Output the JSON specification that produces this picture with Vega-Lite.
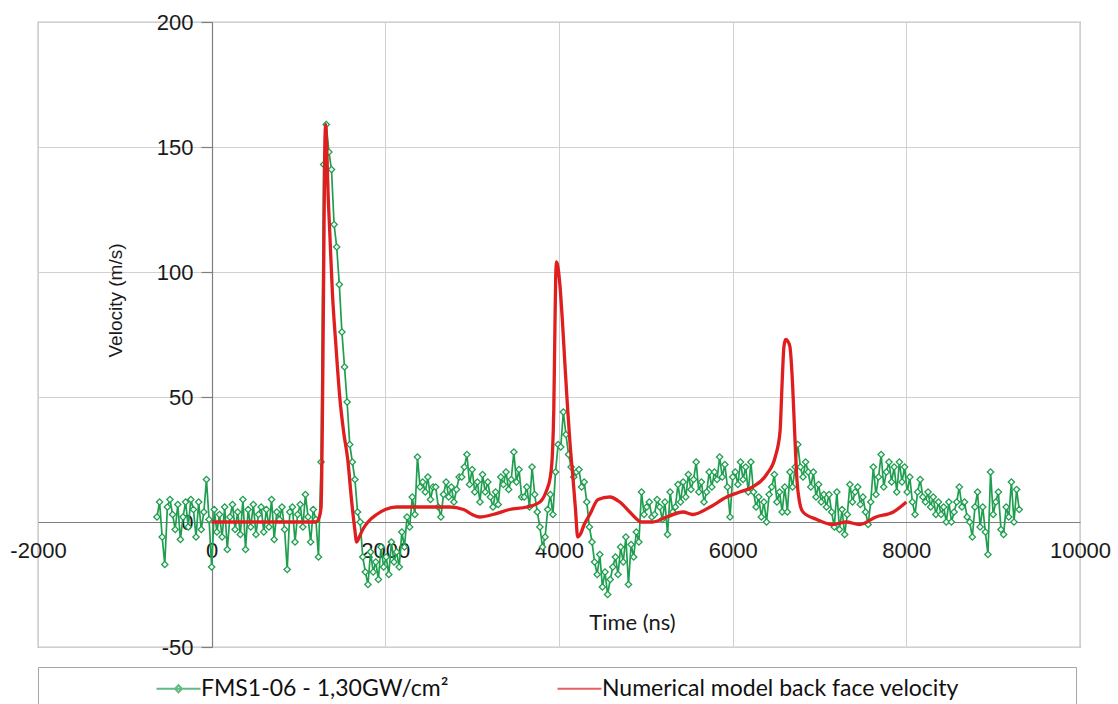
{
  "$schema": "https://vega.github.io/schema/vega-lite/v6.json",
  "width": 1042,
  "height": 625,
  "autosize": {"type": "none"},
  "padding": {"left": 38, "top": 22, "right": 38, "bottom": 57},
  "background": "white",
  "config": {
    "view": {"stroke": "#8c8c8c", "strokeWidth": 1.2},
    "font": "Liberation Sans"
  },
  "datasets": {
    "exp": [
      {"t":-630,"v":2},{"t":-600,"v":8},{"t":-570,"v":-6},{"t":-540,"v":-17},{"t":-510,"v":6},{"t":-480,"v":9},{"t":-450,"v":3},{"t":-420,"v":-3},{"t":-390,"v":7},{"t":-360,"v":-7},{"t":-330,"v":2},{"t":-300,"v":8},{"t":-270,"v":-2},{"t":-240,"v":9},{"t":-210,"v":5},{"t":-180,"v":-6},{"t":-150,"v":8},{"t":-120,"v":-3},{"t":-90,"v":4},{"t":-60,"v":17},{"t":-30,"v":1},{"t":0,"v":-18},
      {"t":30,"v":5},{"t":60,"v":-4},{"t":90,"v":3},{"t":120,"v":-6},{"t":150,"v":6},{"t":180,"v":-11},{"t":210,"v":2},{"t":240,"v":7},{"t":270,"v":-3},{"t":300,"v":4},{"t":330,"v":-5},{"t":360,"v":9},{"t":390,"v":-11},{"t":420,"v":5},{"t":450,"v":-2},{"t":480,"v":7},{"t":510,"v":-5},{"t":540,"v":3},{"t":570,"v":6},{"t":600,"v":-4},{"t":630,"v":5},{"t":660,"v":-2},{"t":690,"v":9},{"t":720,"v":-7},{"t":750,"v":4},{"t":780,"v":1},{"t":810,"v":6},{"t":840,"v":-3},{"t":870,"v":-19},{"t":900,"v":4},{"t":930,"v":6},{"t":960,"v":-8},{"t":990,"v":3},{"t":1020,"v":7},{"t":1050,"v":-2},{"t":1080,"v":11},{"t":1110,"v":2},{"t":1140,"v":-8},{"t":1170,"v":5},{"t":1200,"v":1},{"t":1230,"v":-14},
      {"t":1260,"v":24},{"t":1290,"v":143},{"t":1320,"v":159},{"t":1350,"v":148},{"t":1380,"v":141},{"t":1410,"v":119},{"t":1440,"v":110},{"t":1470,"v":95},{"t":1500,"v":76},{"t":1530,"v":62},{"t":1560,"v":48},{"t":1590,"v":31},{"t":1620,"v":24},{"t":1650,"v":17},{"t":1680,"v":4},{"t":1710,"v":0},{"t":1740,"v":-14},
      {"t":1770,"v":-20},{"t":1800,"v":-25},{"t":1830,"v":-12},{"t":1860,"v":-20},{"t":1890,"v":-16},{"t":1920,"v":-23},{"t":1950,"v":-10},{"t":1980,"v":-18},{"t":2010,"v":-14},{"t":2040,"v":-21},{"t":2070,"v":-8},{"t":2100,"v":-16},{"t":2130,"v":-12},{"t":2160,"v":-18},{"t":2190,"v":-4},{"t":2220,"v":-10},{"t":2250,"v":2},{"t":2280,"v":-2},{"t":2310,"v":10},{"t":2340,"v":3},{"t":2370,"v":26},{"t":2400,"v":14},
      {"t":2430,"v":16},{"t":2460,"v":12},{"t":2490,"v":18},{"t":2520,"v":9},{"t":2550,"v":14},{"t":2580,"v":14},{"t":2610,"v":6},{"t":2640,"v":2},{"t":2670,"v":11},{"t":2700,"v":16},{"t":2730,"v":10},{"t":2760,"v":14},{"t":2790,"v":8},{"t":2820,"v":13},{"t":2850,"v":18},{"t":2880,"v":18},{"t":2910,"v":22},{"t":2940,"v":27},{"t":2970,"v":15},{"t":3000,"v":21},{"t":3030,"v":12},{"t":3060,"v":16},{"t":3090,"v":8},{"t":3120,"v":19},{"t":3150,"v":12},{"t":3180,"v":16},{"t":3210,"v":10},{"t":3240,"v":6},{"t":3270,"v":12},{"t":3300,"v":7},{"t":3330,"v":18},{"t":3360,"v":15},{"t":3390,"v":20},{"t":3420,"v":13},{"t":3450,"v":17},{"t":3480,"v":28},{"t":3510,"v":16},{"t":3540,"v":21},{"t":3570,"v":10},{"t":3600,"v":10},{"t":3630,"v":14},{"t":3660,"v":6},{"t":3690,"v":22},{"t":3720,"v":11},{"t":3750,"v":4},{"t":3780,"v":-2},{"t":3810,"v":-10},{"t":3840,"v":-6},{"t":3870,"v":5},{"t":3900,"v":11},
      {"t":3930,"v":3},{"t":3960,"v":20},{"t":3990,"v":31},{"t":4020,"v":30},{"t":4050,"v":44},{"t":4080,"v":35},{"t":4110,"v":27},{"t":4140,"v":22},{"t":4170,"v":18},{"t":4200,"v":20},{"t":4230,"v":21},{"t":4260,"v":14},{"t":4290,"v":16},{"t":4320,"v":8},{"t":4350,"v":-2},{"t":4380,"v":-8},{"t":4410,"v":-16},{"t":4440,"v":-21},{"t":4470,"v":-13},{"t":4500,"v":-26},{"t":4530,"v":-20},{"t":4560,"v":-29},{"t":4590,"v":-23},{"t":4620,"v":-18},{"t":4650,"v":-14},{"t":4680,"v":-21},{"t":4710,"v":-10},{"t":4740,"v":-16},{"t":4770,"v":-6},{"t":4800,"v":-25},{"t":4830,"v":-9},{"t":4860,"v":-14},{"t":4890,"v":-4},{"t":4920,"v":-8},
      {"t":4950,"v":12},{"t":4980,"v":3},{"t":5010,"v":6},{"t":5040,"v":8},{"t":5070,"v":2},{"t":5100,"v":3},{"t":5130,"v":9},{"t":5160,"v":6},{"t":5190,"v":1},{"t":5220,"v":8},{"t":5250,"v":-5},{"t":5280,"v":12},{"t":5310,"v":4},{"t":5340,"v":6},{"t":5370,"v":15},{"t":5400,"v":8},{"t":5430,"v":16},{"t":5460,"v":10},{"t":5490,"v":19},{"t":5520,"v":13},{"t":5550,"v":17},{"t":5580,"v":24},{"t":5610,"v":12},{"t":5640,"v":16},{"t":5670,"v":8},{"t":5700,"v":12},{"t":5730,"v":20},{"t":5760,"v":14},{"t":5790,"v":20},{"t":5820,"v":17},{"t":5850,"v":26},{"t":5880,"v":18},{"t":5910,"v":23},{"t":5940,"v":14},{"t":5970,"v":2},{"t":6000,"v":18},{"t":6030,"v":20},{"t":6060,"v":15},{"t":6090,"v":24},{"t":6120,"v":17},{"t":6150,"v":22},{"t":6180,"v":12},{"t":6210,"v":24},{"t":6240,"v":12},{"t":6270,"v":6},{"t":6300,"v":10},{"t":6330,"v":2},{"t":6360,"v":8},{"t":6390,"v":0},
      {"t":6420,"v":11},{"t":6450,"v":14},{"t":6480,"v":19},{"t":6510,"v":8},{"t":6540,"v":12},{"t":6570,"v":4},{"t":6600,"v":14},{"t":6630,"v":4},{"t":6660,"v":20},{"t":6690,"v":14},{"t":6720,"v":22},{"t":6750,"v":31},{"t":6780,"v":22},{"t":6810,"v":18},{"t":6840,"v":24},{"t":6870,"v":20},{"t":6900,"v":14},{"t":6930,"v":20},{"t":6960,"v":10},{"t":6990,"v":15},{"t":7020,"v":8},{"t":7050,"v":11},{"t":7080,"v":6},{"t":7110,"v":11},{"t":7140,"v":4},{"t":7170,"v":-2},{"t":7200,"v":12},{"t":7230,"v":-3},{"t":7260,"v":5},{"t":7290,"v":-5},{"t":7320,"v":3},{"t":7350,"v":15},{"t":7380,"v":8},{"t":7410,"v":12},{"t":7440,"v":14},{"t":7470,"v":7},{"t":7500,"v":10},{"t":7530,"v":4},{"t":7560,"v":-1},{"t":7590,"v":8},{"t":7620,"v":22},{"t":7650,"v":11},{"t":7680,"v":18},
      {"t":7710,"v":27},{"t":7740,"v":14},{"t":7770,"v":20},{"t":7800,"v":24},{"t":7830,"v":16},{"t":7860,"v":22},{"t":7890,"v":12},{"t":7920,"v":24},{"t":7950,"v":16},{"t":7980,"v":22},{"t":8010,"v":12},{"t":8040,"v":18},{"t":8070,"v":8},{"t":8100,"v":3},{"t":8130,"v":12},{"t":8160,"v":17},{"t":8190,"v":10},{"t":8220,"v":8},{"t":8250,"v":12},{"t":8280,"v":6},{"t":8310,"v":10},{"t":8340,"v":3},{"t":8370,"v":8},{"t":8400,"v":3},{"t":8430,"v":6},{"t":8460,"v":0},{"t":8490,"v":8},{"t":8520,"v":0},{"t":8550,"v":4},{"t":8580,"v":8},{"t":8610,"v":14},{"t":8640,"v":6},{"t":8670,"v":8},{"t":8700,"v":2},{"t":8730,"v":0},{"t":8760,"v":-6},{"t":8790,"v":6},{"t":8820,"v":12},{"t":8850,"v":-2},{"t":8880,"v":6},{"t":8910,"v":-4},{"t":8940,"v":-13},{"t":8970,"v":20},{"t":9000,"v":3},{"t":9030,"v":8},{"t":9060,"v":12},{"t":9090,"v":-3},{"t":9120,"v":-5},{"t":9150,"v":6},{"t":9180,"v":2},{"t":9210,"v":16},{"t":9240,"v":0},{"t":9270,"v":13},{"t":9300,"v":5}
    ],
    "num": [
      {"t":0,"v":0},{"t":600,"v":0},{"t":1200,"v":0},{"t":1240,"v":2},{"t":1260,"v":6},{"t":1275,"v":40},{"t":1290,"v":100},{"t":1303,"v":150},{"t":1313,"v":159},{"t":1325,"v":150},{"t":1340,"v":132},{"t":1360,"v":116},{"t":1390,"v":92},{"t":1430,"v":71},{"t":1475,"v":50},{"t":1520,"v":36},{"t":1567,"v":25},{"t":1613,"v":8},{"t":1645,"v":-2},{"t":1670,"v":-8},{"t":1700,"v":-6},{"t":1740,"v":-3},{"t":1800,"v":0},{"t":1900,"v":3},{"t":2000,"v":5},{"t":2130,"v":6},{"t":2500,"v":6},{"t":2740,"v":6},{"t":2900,"v":5},{"t":3000,"v":3},{"t":3090,"v":2},{"t":3240,"v":3},{"t":3430,"v":5},{"t":3630,"v":6},{"t":3780,"v":8},{"t":3850,"v":12},{"t":3900,"v":18},{"t":3925,"v":28},{"t":3940,"v":45},{"t":3952,"v":75},{"t":3962,"v":98},{"t":3972,"v":104},{"t":3988,"v":102},{"t":4010,"v":95},{"t":4040,"v":80},{"t":4070,"v":62},{"t":4100,"v":45},{"t":4130,"v":30},{"t":4160,"v":18},{"t":4190,"v":5},{"t":4215,"v":-6},{"t":4245,"v":-5},{"t":4290,"v":-1},{"t":4355,"v":3},{"t":4450,"v":9},{"t":4585,"v":10},{"t":4700,"v":8},{"t":4815,"v":4},{"t":4900,"v":1},{"t":4950,"v":0},{"t":5080,"v":0},{"t":5240,"v":2},{"t":5430,"v":4},{"t":5540,"v":3},{"t":5740,"v":6},{"t":5930,"v":10},{"t":6080,"v":12},{"t":6230,"v":14},{"t":6390,"v":19},{"t":6490,"v":26},{"t":6545,"v":36},{"t":6570,"v":56},{"t":6590,"v":70},{"t":6610,"v":73},{"t":6640,"v":72},{"t":6660,"v":70},{"t":6690,"v":55},{"t":6715,"v":35},{"t":6740,"v":17},{"t":6770,"v":8},{"t":6810,"v":4},{"t":6970,"v":1},{"t":7150,"v":-1},{"t":7310,"v":0},{"t":7460,"v":-1},{"t":7650,"v":2},{"t":7850,"v":4},{"t":8000,"v":8}
    ]
  },
  "encoding": {
    "x": {
      "field": "t", "type": "quantitative",
      "scale": {"domain": [-2000, 10000], "nice": false, "zero": false},
      "axis": {
        "title": "Time (ns)",
        "values": [-2000, 0, 2000, 4000, 6000, 8000, 10000],
        "labelExpr": "datum.value + ''",
        "offset": -125,
        "ticks": false, "tickSize": 0,
        "domainColor": "#7f7f7f", "domainWidth": 1.2,
        "gridColor": "#d0d0d0", "gridWidth": 1,
        "labelFont": "Liberation Sans", "labelFontSize": 22, "labelColor": "#1a1a1a",
        "labelPadding": 18, "labelOverlap": false, "labelFlush": false,
        "titleFont": "Lato", "titleFontSize": 22, "titleFontWeight": "normal", "titleColor": "#1a1a1a",
        "titleX": 594, "titleY": 100, "titleAlign": "center", "titleBaseline": "middle", "titleAngle": 0
      }
    },
    "y": {
      "field": "v", "type": "quantitative",
      "scale": {"domain": [-50, 200], "nice": false, "zero": false},
      "axis": {
        "title": "Velocity (m/s)",
        "values": [-50, 0, 50, 100, 150, 200],
        "labelExpr": "datum.value + ''",
        "offset": -174,
        "tickSize": 11, "tickColor": "#7f7f7f", "tickWidth": 1.2,
        "domainColor": "#7f7f7f", "domainWidth": 1.2,
        "gridColor": "#d0d0d0", "gridWidth": 1,
        "labelFont": "Liberation Sans", "labelFontSize": 22, "labelColor": "#1a1a1a",
        "labelPadding": 8, "labelOverlap": false, "labelFlush": false,
        "titleFont": "Liberation Sans", "titleFontSize": 19, "titleFontWeight": "normal", "titleColor": "#1a1a1a",
        "titleX": -97, "titleY": 278, "titleAlign": "center", "titleBaseline": "middle", "titleAngle": -90
      }
    }
  },
  "layer": [
    {
      "data": {"name": "exp"},
      "mark": {"type": "line", "strokeWidth": 1.7},
      "encoding": {
        "color": {
          "datum": "FMS1-06 - 1,30GW/cm²",
          "scale": {"domain": ["FMS1-06 - 1,30GW/cm²", "Numerical model back face velocity"], "range": ["#1f9e4f", "#df1f1f"]}
        }
      }
    },
    {
      "data": {"name": "exp"},
      "mark": {"type": "point", "shape": "diamond", "filled": true, "fill": "#f4fbf6", "stroke": "#1f9e4f", "strokeWidth": 1.3, "size": 40, "opacity": 1}
    },
    {
      "data": {"name": "num"},
      "mark": {"type": "line", "strokeWidth": 3.3, "interpolate": "monotone"},
      "encoding": {
        "color": {"datum": "Numerical model back face velocity"}
      }
    },
    {
      "data": {"name": "exp"},
      "transform": [{"filter": "datum.t > 100000"}],
      "mark": {"type": "point", "filled": false, "size": 400, "strokeWidth": 2},
      "encoding": {
        "color": {
          "datum": "FMS1-06 - 1,30GW/cm²",
          "legend": {
            "title": " ",
            "titleOrient": "right",
            "titleFontSize": 1,
            "titlePadding": 107,
            "orient": "none",
            "legendX": 0,
            "legendY": 645,
            "direction": "horizontal",
            "strokeColor": "#a6a6a6",
            "fillColor": "white",
            "padding": 10,
            "symbolSize": 400,
            "symbolStrokeWidth": 2,
            "symbolOffset": 119,
            "labelOffset": 11,
            "labelFont": "Lato",
            "labelFontSize": 23,
            "labelColor": "#111111",
            "labelLimit": 900,
            "columnPadding": 0
          }
        },
        "shape": {
          "datum": "FMS1-06 - 1,30GW/cm²",
          "scale": {"domain": ["FMS1-06 - 1,30GW/cm²", "Numerical model back face velocity"], "range": ["M-2.2,0H2.2M0,-0.35L0.35,0L0,0.35L-0.35,0Z", "M-2.2,0H2.2"]},
          "legend": {
            "title": " ",
            "titleOrient": "right",
            "titleFontSize": 1,
            "titlePadding": 107,
            "orient": "none",
            "legendX": 0,
            "legendY": 645,
            "direction": "horizontal",
            "strokeColor": "#a6a6a6",
            "fillColor": "white",
            "padding": 10,
            "symbolSize": 400,
            "symbolStrokeWidth": 2,
            "symbolOffset": 119,
            "labelOffset": 11,
            "labelFont": "Lato",
            "labelFontSize": 23,
            "labelColor": "#111111",
            "labelLimit": 900,
            "columnPadding": 0
          }
        }
      }
    }
  ]
}
